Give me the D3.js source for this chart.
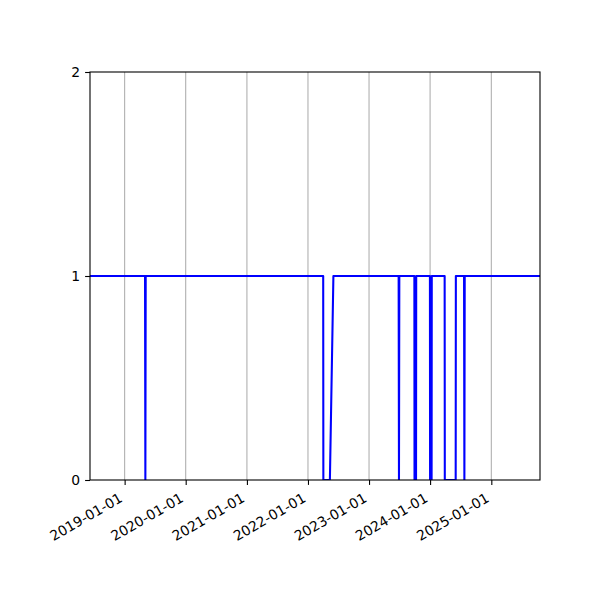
<!DOCTYPE html>
<html>
<head>
<meta charset="utf-8">
<script src="https://cdn.jsdelivr.net/npm/d3@7"></script>
<style>
  body { margin: 0; background: #fff; }
  svg { display: block; }
  text { font-family: "DejaVu Sans", sans-serif; }
</style>
</head>
<body>
<svg id="chart" width="600" height="600"></svg>
<script>
// Series: dates and values (step changes between 1 and 0)
const dates = [
  "2018-06-08", "2019-05-03", "2019-05-05", "2019-05-07",
  "2022-04-02", "2022-04-03", "2022-05-12", "2022-06-02",
  "2023-06-27", "2023-06-29", "2023-07-01",
  "2023-09-29", "2023-09-30", "2023-10-09", "2023-10-10",
  "2023-12-31", "2024-01-01", "2024-01-10", "2024-01-11",
  "2024-03-28", "2024-03-29", "2024-06-02", "2024-06-03",
  "2024-07-22", "2024-07-24", "2024-07-26",
  "2025-10-19"
];
const values = [
  1, 1, 0, 1,
  1, 0, 0, 1,
  1, 0, 1,
  1, 0, 0, 1,
  1, 0, 0, 1,
  1, 0, 0, 1,
  1, 0, 1,
  1
];
const xTickLabels = ["2019-01-01", "2020-01-01", "2021-01-01", "2022-01-01", "2023-01-01", "2024-01-01", "2025-01-01"];
const yTickValues = [0, 1, 2];

const parse = d3.utcParse("%Y-%m-%d");
const data = dates.map((d, i) => ({ date: parse(d), value: values[i] }));

const margin = { left: 90, right: 60, top: 72, bottom: 120 };
const W = 600, H = 600;
const svg = d3.select("#chart");

const x = d3.scaleUtc()
  .domain(d3.extent(data, d => d.date))
  .range([margin.left, W - margin.right]);
const y = d3.scaleLinear()
  .domain([0, 2])
  .range([H - margin.bottom, margin.top]);

const xTicks = xTickLabels.map(parse);
const fontPx = 13.9;
const tickLen = 4.9;

// grid (x only)
svg.append("g")
  .selectAll("line")
  .data(xTicks)
  .join("line")
  .attr("x1", d => x(d)).attr("x2", d => x(d))
  .attr("y1", y(0)).attr("y2", y(2))
  .attr("stroke", "#b0b0b0")
  .attr("stroke-width", 1.1);

// line
const line = d3.line()
  .x(d => x(d.date))
  .y(d => y(d.value));

const clip = svg.append("clipPath").attr("id", "clip")
  .append("rect")
  .attr("x", margin.left).attr("y", margin.top)
  .attr("width", W - margin.left - margin.right)
  .attr("height", H - margin.top - margin.bottom);

svg.append("path")
  .datum(data)
  .attr("clip-path", "url(#clip)")
  .attr("d", line)
  .attr("fill", "none")
  .attr("stroke", "#0000ff")
  .attr("stroke-width", 2.08)
  .attr("stroke-linejoin", "round")
  .attr("stroke-linecap", "square");

// frame
svg.append("rect")
  .attr("x", margin.left).attr("y", margin.top)
  .attr("width", W - margin.left - margin.right)
  .attr("height", H - margin.top - margin.bottom)
  .attr("fill", "none")
  .attr("stroke", "#000")
  .attr("stroke-width", 1.1);

// x axis
const xAxis = d3.axisBottom(x)
  .tickValues(xTicks)
  .tickFormat(d3.utcFormat("%Y-%m-%d"))
  .tickSize(tickLen)
  .tickSizeOuter(0);
const gx = svg.append("g")
  .attr("transform", `translate(0,${y(0)})`)
  .call(xAxis);
gx.select(".domain").remove();
gx.selectAll(".tick line").attr("stroke", "#000").attr("stroke-width", 1.1);
gx.selectAll(".tick text")
  .attr("font-size", fontPx)
  .attr("fill", "#000")
  .attr("text-anchor", "end")
  .attr("x", 0)
  .attr("y", 0)
  .attr("dy", "-0.24em")
  .attr("transform", `translate(0,${tickLen + 4.9 + fontPx * 1.164 * 0.866}) rotate(-30)`);

// y axis
const yAxis = d3.axisLeft(y)
  .tickValues(yTickValues)
  .tickFormat(d3.format("d"))
  .tickSize(tickLen)
  .tickPadding(4.9)
  .tickSizeOuter(0);
const gy = svg.append("g")
  .attr("transform", `translate(${margin.left},0)`)
  .call(yAxis);
gy.select(".domain").remove();
gy.selectAll(".tick line").attr("stroke", "#000").attr("stroke-width", 1.1);
gy.selectAll(".tick text")
  .attr("font-size", fontPx)
  .attr("fill", "#000");
</script>
</body>
</html>
